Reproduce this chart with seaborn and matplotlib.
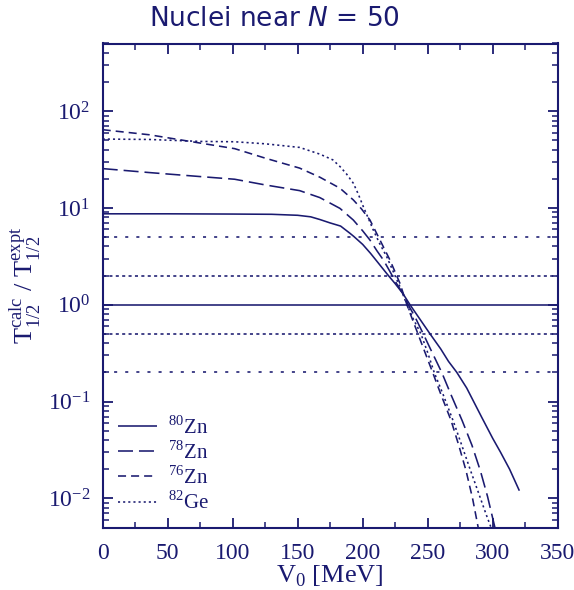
import numpy as np
import pandas as pd
import matplotlib
matplotlib.use("Agg")
import matplotlib.pyplot as plt
import seaborn as sns
from matplotlib.ticker import MultipleLocator, LogLocator, NullFormatter

# ---------------- data ----------------
V_80Zn = [0, 50, 100, 130, 150, 160, 167, 175, 183, 190, 193, 200, 206, 212, 218.5,
          225, 231, 236.4, 244, 251.8, 260, 266, 272.3, 280, 291.5, 300, 306, 313, 320.5]
T_80Zn = [8.7, 8.7, 8.65, 8.6, 8.4, 8.1, 7.6, 7.0, 6.5, 5.5, 5.1, 4.2, 3.4, 2.7, 2.1,
          1.65, 1.3, 1.0, 0.71, 0.5, 0.35, 0.26, 0.201, 0.138, 0.069, 0.0417, 0.030, 0.020, 0.012]

V_78Zn = [0, 36, 75, 101.5, 125, 151.5, 167, 182.5, 192.8, 200, 205.6, 211, 216, 221,
          226, 231, 235, 240, 246.6, 253, 260.8, 268, 276.5, 284, 290.5, 296, 302.5]
T_78Zn = [25.5, 23.2, 21.1, 19.8, 17.3, 15.1, 12.8, 9.9, 7.5, 5.8, 4.66, 3.6, 2.89, 2.2,
          1.66, 1.3, 1.0, 0.76, 0.5, 0.33, 0.2, 0.117, 0.0636, 0.0355, 0.0193, 0.0105, 0.0045]

V_76Zn = [0, 36, 75, 101.5, 125, 151.5, 167, 182.5, 192.8, 199, 205.6, 213.3, 221, 228.7,
          234, 238, 242.5, 248, 253.8, 260, 268, 274, 279.5, 284.5, 289.5]
T_76Zn = [64.3, 57, 46.8, 41, 32.7, 25.8, 20.8, 16, 12.1, 9.8, 7.5, 4.66, 2.89, 1.66,
          1.0, 0.72, 0.5, 0.32, 0.2, 0.12, 0.0636, 0.035, 0.0193, 0.01, 0.0045]

V_82Ge = [0, 36, 75, 101.5, 125, 151.5, 167, 177, 182.5, 187.5, 192.8, 196.5, 200.5, 204,
          208.2, 213, 218.5, 223.5, 228.7, 234, 239, 244.8, 250, 255, 262, 269.5, 276, 283,
          289.5, 295, 300]
T_82Ge = [51.5, 51.0, 48.7, 48.3, 46, 42.2, 36, 31.4, 26.8, 22.5, 18, 14, 10.3, 8.0,
          5.9, 4.3, 3.13, 2.2, 1.53, 1.0, 0.71, 0.5, 0.32, 0.2, 0.117, 0.0636, 0.036, 0.0193,
          0.011, 0.0068, 0.0045]

labels = [r"$^{80}$Zn", r"$^{78}$Zn", r"$^{76}$Zn", r"$^{82}$Ge"]
ref_solid = [1.0]
ref_dense = [0.5, 2.0]
ref_sparse = [0.2, 5.0]
x_ticks = [0, 50, 100, 150, 200, 250, 300, 350]

# ---------------- style ----------------
sns.set_theme(style="ticks")
C = "#1a1a70"
plt.rcParams.update({
    "font.family": ["Liberation Serif", "DejaVu Serif"],
    "mathtext.fontset": "custom",
    "mathtext.rm": "Liberation Serif",
    "mathtext.it": "DejaVu Sans:italic",
    "mathtext.bf": "Liberation Serif:bold",
    "lines.scale_dashes": False,
    "axes.edgecolor": C,
    "xtick.color": C,
    "ytick.color": C,
    "text.color": C,
    "axes.labelcolor": C,
})

fig = plt.figure(figsize=(5.74, 5.90), dpi=100)
ax = fig.add_axes([102.7 / 574, 1 - 527.5 / 590, 455 / 574, 484 / 590])

lw = 1.15
styles = [
    (0, ()),
    (0, (10.8, 4.3)),
    (0, (5.8, 3.6)),
    (0, (1.5, 2.2)),
]
series = [(V_80Zn, T_80Zn), (V_78Zn, T_78Zn), (V_76Zn, T_76Zn), (V_82Ge, T_82Ge)]
for (vx, ty), lab, ls in zip(series, labels, styles):
    df = pd.DataFrame({"V0": vx, "T": ty})
    sns.lineplot(data=df, x="V0", y="T", ax=ax, color=C, lw=lw, linestyle=ls,
                 label=lab, sort=False, estimator=None)

for r in ref_solid:
    ax.axhline(r, color=C, lw=lw, zorder=1)
for r in ref_dense:
    ax.axhline(r, color=C, lw=lw, linestyle=(0, (2.2, 2.4)), zorder=1)
for r in ref_sparse:
    ax.axhline(r, color=C, lw=lw, linestyle=(0, (2.2, 5.8)), zorder=1)

ax.set_yscale("log")
ax.set_xlim(0, 350)
ax.set_ylim(5e-3, 500)
ax.set_xticks(x_ticks)
ax.xaxis.set_minor_locator(MultipleLocator(25))
ax.yaxis.set_major_locator(LogLocator(base=10, numticks=10))
ax.yaxis.set_minor_locator(LogLocator(base=10, subs=np.arange(2, 10), numticks=20))
ax.yaxis.set_minor_formatter(NullFormatter())

for s in ax.spines.values():
    s.set_visible(True)
    s.set_linewidth(1.5)
    s.set_color(C)
ax.tick_params(which="both", direction="in", top=True, right=True, color=C,
               labelcolor=C, labelsize=17)
ax.tick_params(which="major", length=7, width=1.3)
ax.tick_params(axis="x", which="major", pad=11)
ax.tick_params(axis="y", which="major", pad=9)
ax.tick_params(which="minor", length=4, width=1.1)

ax.set_xlabel(r"V$_0$ [MeV]", fontsize=19, labelpad=0)
ax.set_ylabel(r"$\mathrm{T}^{\mathrm{calc}}_{1/2}$ / $\mathrm{T}^{\mathrm{expt}}_{1/2}$",
              fontsize=19, labelpad=3)

fig.text(274 / 574, 1 - 19 / 590, r"Nuclei near $N$ = 50", family="DejaVu Sans",
         fontsize=19, ha="center", va="center", color=C)

leg = ax.legend(loc="lower left", bbox_to_anchor=(0.016, 0.011), frameon=False,
                fontsize=15, handlelength=1.87, handletextpad=0.5,
                labelspacing=0.12, borderaxespad=0.0, labelcolor=C)

fig.savefig("out.png", dpi=100)
